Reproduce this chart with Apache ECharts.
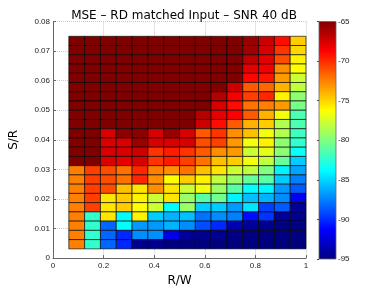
<!DOCTYPE html>
<html>
<head>
<meta charset="utf-8">
<script src="https://cdn.jsdelivr.net/npm/echarts@6/dist/echarts.min.js"></script>
<style>html,body{margin:0;padding:0;background:#fff}#c{width:388px;height:292px}</style>
</head>
<body>
<div id="c"></div>
<script>
// R/W cell centres (columns, left to right)
const rwValues = [0.09375, 0.15625, 0.21875, 0.28125, 0.34375, 0.40625, 0.46875, 0.53125,
                  0.59375, 0.65625, 0.71875, 0.78125, 0.84375, 0.90625, 0.96875];
// S/R cell centres (rows, top to bottom)
const srValues = [0.0734375, 0.0703125, 0.0671875, 0.0640625, 0.0609375, 0.0578125, 0.0546875,
                  0.0515625, 0.0484375, 0.0453125, 0.0421875, 0.0390625, 0.0359375, 0.0328125,
                  0.0296875, 0.0265625, 0.0234375, 0.0203125, 0.0171875, 0.0140625, 0.0109375,
                  0.0078125, 0.0046875];
// MSE in dB, one row per S/R value (top to bottom), one entry per R/W value
const mseRows = [
  [-65,-65,-65,-65,-65,-65,-65,-65,-65,-65,-65,-65.75,-67.25,-69.1,-74.75],
  [-65,-65,-65,-65,-65,-65,-65,-65,-65,-65,-65,-66,-67.6,-70.25,-75.1],
  [-65,-65,-65,-65,-65,-65,-65,-65,-65,-65,-65,-66.9,-68,-71,-75.9],
  [-65,-65,-65,-65,-65,-65,-65,-65,-65,-65,-65,-68,-68.4,-72.9,-76.25],
  [-65,-65,-65,-65,-65,-65,-65,-65,-65,-65,-65,-68.9,-69.3,-73.25,-77.75],
  [-65,-65,-65,-65,-65,-65,-65,-65,-65,-65,-67.25,-71.4,-71.75,-74,-78.1],
  [-65,-65,-65,-65,-65,-65,-65,-65,-65,-66.5,-68.5,-70.6,-69.9,-75.9,-79.6],
  [-65,-65,-65,-65,-65,-65,-65,-65,-65,-67.6,-69.1,-72.1,-72.5,-73.25,-80.25],
  [-65,-65,-65,-65,-65,-65,-65,-65,-66.5,-68,-68.75,-71.4,-74,-76.6,-81.5],
  [-65,-65,-65,-65,-65,-65,-65,-65,-67.25,-69.1,-71.4,-74,-74.75,-78.5,-81.5],
  [-65,-65,-67.6,-65.4,-65.4,-67.6,-65.75,-67.6,-71.4,-70.25,-72.9,-74.4,-76.6,-78.5,-81.9],
  [-65,-65,-67.6,-67.6,-65.75,-67.6,-67.6,-67.6,-71,-70.6,-73.25,-76.6,-75.9,-79.6,-82.25],
  [-65,-65,-67.6,-67.6,-67.25,-70.25,-69.5,-70.25,-71.4,-72.9,-73.25,-77.75,-77,-79.6,-83.5],
  [-65,-65,-67.6,-68,-67.6,-70.25,-69.5,-70.6,-72.1,-74.4,-74.75,-76.6,-78.1,-80.75,-85.25],
  [-72.5,-70.6,-71,-72.1,-69.9,-72.5,-72.9,-72.1,-74.4,-75.5,-77.75,-78.1,-80,-84.1,-86.4],
  [-72.5,-70.6,-71,-72.1,-69.9,-72.9,-76.25,-74.75,-75.9,-78.1,-79.25,-80.75,-81.1,-85.25,-87.5],
  [-72.5,-70.6,-71,-74.4,-75.5,-72.9,-75.5,-77.75,-76.6,-79.25,-81.1,-83.75,-84,-86.75,-88.6],
  [-72.5,-70.6,-75.5,-74.75,-75.9,-77.75,-75.5,-79.25,-81.1,-80.4,-84.1,-85.6,-86,-87.1,-91.6],
  [-72.5,-70.6,-75.5,-74.75,-76.25,-77.75,-83.75,-79.25,-85.25,-85.25,-86.75,-84.5,-89.4,-88.6,-94.25],
  [-72.5,-82.25,-75.5,-83.75,-75.9,-85.25,-86,-85.6,-87.9,-87.1,-87.5,-90.9,-89.75,-94.25,-94.6],
  [-72.5,-82.25,-88.25,-83.75,-86.75,-86.75,-86,-87.1,-89,-90.1,-93.5,-94.25,-94.6,-95,-95],
  [-72.5,-82.25,-88.25,-90.1,-87.1,-87.1,-92,-94.25,-94.6,-94.6,-94.8,-95,-95,-95,-95],
  [-72.5,-82.25,-88.25,-90.1,-94.6,-94.6,-95,-95,-95,-95,-95,-95,-95,-95,-95]
];
// colour bar range and tick labels
const cbMin = -95, cbMax = -65;
const cbTicks = [-95, -90, -85, -80, -75, -70, -65];
const titleText = 'MSE \u2013 RD matched Input \u2013 SNR 40 dB';

const jet = ['#000080','#0000ff','#0080ff','#00ffff','#80ff80','#ffff00','#ff8000','#ff0000','#800000'];

const cellW = rwValues[1] - rwValues[0];
const cellH = srValues[0] - srValues[1];
const cells = [];
srValues.forEach((sr, i) => rwValues.forEach((rw, j) => cells.push([rw, sr, mseRows[i][j]])));

const chart = echarts.init(document.getElementById('c'), null, {renderer: 'canvas'});
const tickFont = 'Liberation Sans';
chart.setOption({
  animation: false,
  backgroundColor: '#fff',
  title: {
    text: titleText, left: 179, top: 5, textAlign: 'center',
    textStyle: {fontFamily: 'DejaVu Sans', fontSize: 12, fontWeight: 'normal', color: '#000'}
  },
  grid: [
    {left: 51, right: 82, top: 21.5, bottom: 33},
    {left: 319, right: 52, top: 21.5, bottom: 33}
  ],
  xAxis: [
    {type: 'value', gridIndex: 0, min: 0, max: 1, interval: 0.2,
     name: 'R/W', nameLocation: 'middle', nameGap: 16,
     nameTextStyle: {fontFamily: 'DejaVu Sans', fontSize: 12, color: '#000'},
     axisLine: {lineStyle: {color: '#666', width: 1}},
     axisTick: {inside: true, length: 3, lineStyle: {color: '#666'}},
     axisLabel: {fontFamily: tickFont, fontSize: 8, color: '#222', margin: 4},
     splitLine: {show: true, lineStyle: {color: '#c8c8c8', type: 'dotted', width: 1}}},
    {type: 'value', gridIndex: 1, min: 0, max: 1, show: false}
  ],
  yAxis: [
    {type: 'value', gridIndex: 0, min: 0, max: 0.08, interval: 0.01,
     name: 'S/R', nameLocation: 'middle', nameGap: 33,
     nameTextStyle: {fontFamily: 'DejaVu Sans', fontSize: 12, color: '#000'},
     axisLine: {show: true, lineStyle: {color: '#666', width: 1}},
     axisTick: {show: true, inside: true, length: 3, lineStyle: {color: '#666'}},
     axisLabel: {fontFamily: tickFont, fontSize: 8, color: '#222', margin: 3},
     splitLine: {show: true, lineStyle: {color: '#c8c8c8', type: 'dotted', width: 1}}},
    {type: 'value', gridIndex: 1, min: cbMin, max: cbMax, interval: 5, position: 'right',
     axisLine: {show: false},
     axisTick: {show: true, inside: true, length: 2, lineStyle: {color: '#444'}},
     axisLabel: {fontFamily: tickFont, fontSize: 8, color: '#222', margin: 2,
                 formatter: v => cbTicks.includes(v) ? String(v) : ''},
     splitLine: {show: false}}
  ],
  visualMap: {
    show: false, type: 'continuous', seriesIndex: 0, dimension: 2,
    min: cbMin, max: cbMax, inRange: {color: jet}
  },
  series: [
    {
      type: 'custom', xAxisIndex: 0, yAxisIndex: 0, data: cells,
      encode: {x: 0, y: 1},
      renderItem: (params, api) => {
        const x = api.value(0), y = api.value(1);
        const p0 = api.coord([x - cellW / 2, y + cellH / 2]);
        const p1 = api.coord([x + cellW / 2, y - cellH / 2]);
        return {
          type: 'rect',
          shape: {x: p0[0], y: p0[1], width: p1[0] - p0[0], height: p1[1] - p0[1]},
          style: {fill: api.visual('color'), stroke: 'rgba(0,0,0,0.8)', lineWidth: 0.8}
        };
      }
    },
    {
      type: 'custom', xAxisIndex: 1, yAxisIndex: 1, data: [[0, cbMin, 1, cbMax]],
      z: 1,
      renderItem: (params, api) => {
        const p0 = api.coord([api.value(0), api.value(3)]);
        const p1 = api.coord([api.value(2), api.value(1)]);
        const stops = jet.slice().reverse().map((c, k) => ({offset: k / (jet.length - 1), color: c}));
        return {
          type: 'rect',
          shape: {x: p0[0], y: p0[1], width: p1[0] - p0[0], height: p1[1] - p0[1]},
          style: {fill: new echarts.graphic.LinearGradient(0, 0, 0, 1, stops), stroke: '#666', lineWidth: 0.8}
        };
      }
    }
  ]
});
</script>
</body>
</html>
